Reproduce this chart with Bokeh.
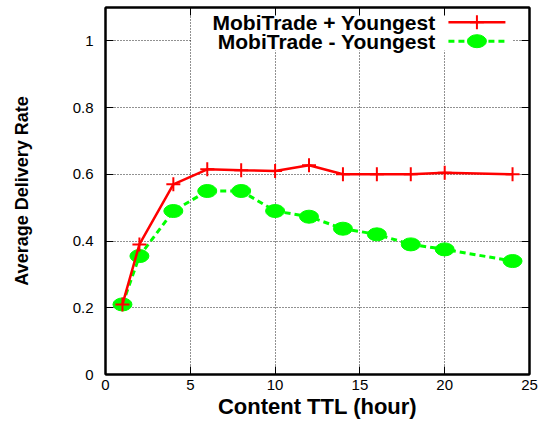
from bokeh.plotting import figure
from bokeh.models import FixedTicker, LinearAxis, Label, Range1d
from bokeh.embed import file_html
from bokeh.resources import INLINE

# ---- data ----
ttl = [1, 2, 4, 6, 8, 10, 12, 14, 16, 18, 20, 24]
plus_youngest = [0.21, 0.39, 0.57, 0.615, 0.612, 0.61, 0.627, 0.60, 0.60, 0.60, 0.605, 0.60]
minus_youngest = [0.21, 0.355, 0.49, 0.55, 0.55, 0.49, 0.473, 0.437, 0.42, 0.39, 0.375, 0.34]
series_names = ["MobiTrade + Youngest", "MobiTrade - Youngest"]
x_ticks = [0, 5, 10, 15, 20, 25]
y_ticks = [0, 0.2, 0.4, 0.6, 0.8, 1.0]
y_tick_labels = ["0", "0.2", "0.4", "0.6", "0.8", "1"]
x_title = "Content TTL (hour)"
y_title = "Average Delivery Rate"

FONT = "Liberation Sans"
RED = "#ff0000"
GREEN = "#00ff00"

p = figure(width=543, height=421, output_backend="svg", toolbar_location=None,
           x_range=Range1d(0, 25), y_range=Range1d(0, 1.1),
           min_border_left=105, min_border_right=14, min_border_top=7, min_border_bottom=47)
p.background_fill_color = "white"
p.border_fill_color = "white"
p.outline_line_color = "black"
p.outline_line_width = 2

for ax in (p.xaxis[0], p.yaxis[0]):
    ax.major_tick_in = 8
    ax.major_tick_out = 0
    ax.minor_tick_in = 0
    ax.minor_tick_out = 0
    ax.axis_line_width = 2
    ax.major_tick_line_width = 1
    ax.major_label_text_font = FONT
    ax.major_label_text_font_size = "15px"
    ax.major_label_text_color = "black"
    ax.axis_label_text_font = FONT
    ax.axis_label_text_font_style = "bold"
    ax.axis_label_text_color = "black"
p.xaxis.ticker = FixedTicker(ticks=x_ticks)
p.yaxis.ticker = FixedTicker(ticks=y_ticks)
p.yaxis.major_label_overrides = {t: l for t, l in zip(y_ticks, y_tick_labels)}
p.xaxis.major_label_standoff = 5
p.yaxis.major_label_standoff = 12
p.xaxis.axis_label = x_title
p.xaxis.axis_label_text_font_size = "22px"
p.xaxis.axis_label_standoff = 1
p.yaxis.axis_label = y_title
p.yaxis.axis_label_text_font_size = "18px"
p.yaxis.axis_label_standoff = 38

# mirror ticks (no labels)
for loc, tk in (("right", y_ticks), ("above", x_ticks)):
    ax = LinearAxis(ticker=FixedTicker(ticks=tk), major_tick_in=8, major_tick_out=0,
                    minor_tick_in=0, minor_tick_out=0, axis_line_width=2,
                    major_label_overrides={t: "" for t in tk},
                    major_label_text_font_size="1px", major_label_standoff=0)
    p.add_layout(ax, loc)

for g, tk in ((p.xgrid[0], x_ticks), (p.ygrid[0], y_ticks)):
    g.ticker = FixedTicker(ticks=tk)
    g.grid_line_color = "#222222"
    g.grid_line_dash = "1 2"
    g.grid_line_width = 1

# legend background (opaque key)
p.quad(left=[5.07], right=[24.0], bottom=[0.971], top=[1.091],
       fill_color="white", line_color=None)

# data series
p.line(ttl, minus_youngest, line_color=GREEN, line_width=3, line_dash="6 4")
p.ellipse(ttl, minus_youngest, width=19, height=13, width_units="screen", height_units="screen",
          fill_color=GREEN, line_color=GREEN)
p.line(ttl, plus_youngest, line_color=RED, line_width=2.5)
p.scatter(ttl, plus_youngest, marker="cross", size=14, line_color=RED, line_width=2)

# key
key_rows = [1.056, 0.999]
p.line([20.22, 23.58], [key_rows[0]] * 2, line_color=RED, line_width=2.5)
p.scatter([21.9], [key_rows[0]], marker="cross", size=14, line_color=RED, line_width=2)
p.line([20.22, 23.58], [key_rows[1]] * 2, line_color=GREEN, line_width=3, line_dash="6 4")
p.ellipse([21.9], [key_rows[1]], width=19, height=13, width_units="screen", height_units="screen",
          fill_color=GREEN, line_color=GREEN)
for name, yk in zip(series_names, key_rows):
    p.add_layout(Label(x=19.46, y=yk, text=name, text_align="right", text_baseline="middle",
                       text_font=FONT, text_font_style="bold", text_font_size="21px",
                       text_color="black"))

open("out.html", "w").write(file_html(p, INLINE))
